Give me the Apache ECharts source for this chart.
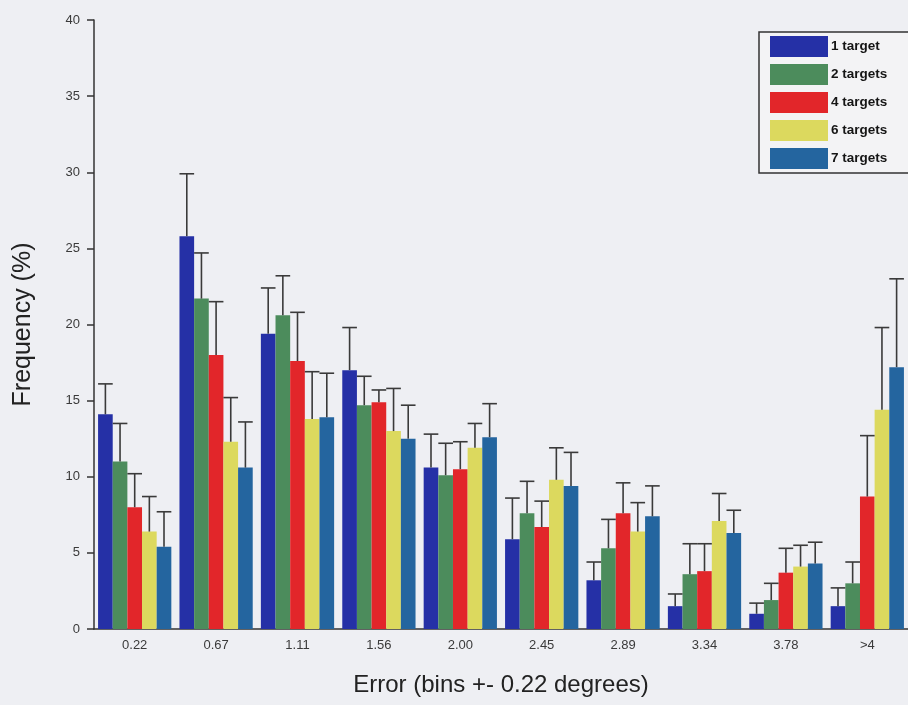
<!DOCTYPE html>
<html>
<head>
<meta charset="utf-8">
<script src="https://cdn.jsdelivr.net/npm/echarts@6/dist/echarts.min.js"></script>
<style>
  html, body { margin: 0; padding: 0; background: #eeeff3; }
  #chart { width: 908px; height: 705px; }
</style>
</head>
<body>
<div id="chart"></div>
<script>
// error bins
const categories = ['0.22', '0.67', '1.11', '1.56', '2.00', '2.45', '2.89', '3.34', '3.78', '>4'];
const targetNames = ['1 target', '2 targets', '4 targets', '6 targets', '7 targets'];

// mean frequency (%)
const freq1 = [14.1, 25.8, 19.4, 17.0, 10.6, 5.9, 3.2, 1.5, 1.0, 1.5];
const freq2 = [11.0, 21.7, 20.6, 14.7, 10.1, 7.6, 5.3, 3.6, 1.9, 3.0];
const freq4 = [8.0, 18.0, 17.6, 14.9, 10.5, 6.7, 7.6, 3.8, 3.7, 8.7];
const freq6 = [6.4, 12.3, 13.8, 13.0, 11.9, 9.8, 6.4, 7.1, 4.1, 14.4];
const freq7 = [5.4, 10.6, 13.9, 12.5, 12.6, 9.4, 7.4, 6.3, 4.3, 17.2];

// upper error (%)
const err1 = [2.0, 4.1, 3.0, 2.8, 2.2, 2.7, 1.2, 0.8, 0.7, 1.2];
const err2 = [2.5, 3.0, 2.6, 1.9, 2.1, 2.1, 1.9, 2.0, 1.1, 1.4];
const err4 = [2.2, 3.5, 3.2, 0.8, 1.8, 1.7, 2.0, 1.8, 1.6, 4.0];
const err6 = [2.3, 2.9, 3.1, 2.8, 1.6, 2.1, 1.9, 1.8, 1.4, 5.4];
const err7 = [2.3, 3.0, 2.9, 2.2, 2.2, 2.2, 2.0, 1.5, 1.4, 5.8];

const colors = ['#2530a6', '#4c8c5c', '#e2262a', '#dcd95e', '#24659f'];
const allFreq = [freq1, freq2, freq4, freq6, freq7];
const allErr = [err1, err2, err4, err6, err7];

const CAT_GAP = 0.1;
const nSeries = targetNames.length;

const chart = echarts.init(document.getElementById('chart'));

const barSeries = targetNames.map((name, i) => ({
  name: name,
  type: 'bar',
  data: allFreq[i],
  barGap: '0%',
  barCategoryGap: (CAT_GAP * 100) + '%',
  itemStyle: { color: colors[i] },
  z: 2,
}));

// one-sided (upper) error bars, placed over each bar of the group
const errorSeries = targetNames.map((name, i) => ({
  name: name + ' err',
  type: 'custom',
  data: allFreq[i].map((v, k) => [k, v, v + allErr[i][k]]),
  encode: { x: 0, y: [1, 2] },
  z: 3,
  silent: true,
  renderItem: (params, api) => {
    const idx = api.value(0);
    const lo = api.coord([idx, api.value(1)]);
    const hi = api.coord([idx, api.value(2)]);
    const band = api.size([1, 0])[0];
    const inner = band * (1 - CAT_GAP);
    const bw = inner / nSeries;
    const cx = lo[0] - inner / 2 + bw * (i + 0.5);
    const half = bw * 0.5;
    const style = { stroke: '#3a3a3a', lineWidth: 1.6 };
    return {
      type: 'group',
      children: [
        { type: 'line', shape: { x1: cx, y1: lo[1], x2: cx, y2: hi[1] }, style: style },
        { type: 'line', shape: { x1: cx - half, y1: hi[1], x2: cx + half, y2: hi[1] }, style: style },
      ],
    };
  },
}));

const option = {
  backgroundColor: '#eeeff3',
  animation: false,
  textStyle: { fontFamily: 'Liberation Sans, Arial, sans-serif' },
  grid: { left: 94, right: 0, top: 20, bottom: 76 },
  legend: {
    data: targetNames,
    orient: 'vertical',
    left: 759,
    top: 32,
    padding: [4, 30, 4, 11],
    itemWidth: 58,
    itemHeight: 21,
    itemGap: 7,
    backgroundColor: '#f3f3f5',
    borderColor: '#333',
    borderWidth: 1.5,
    borderRadius: 0,
    icon: 'rect',
    textStyle: { color: '#151515', fontSize: 13.5, fontWeight: 'bold', padding: [0, 0, 0, -2] },
  },
  xAxis: {
    type: 'category',
    data: categories,
    name: 'Error (bins +- 0.22 degrees)',
    nameLocation: 'middle',
    nameGap: 44,
    nameTextStyle: { color: '#222', fontSize: 24 },
    axisLine: { lineStyle: { color: '#333', width: 1.5 } },
    axisTick: { show: false },
    axisLabel: { color: '#3a3a3a', fontSize: 13, margin: 10 },
  },
  yAxis: {
    type: 'value',
    min: 0,
    max: 40,
    interval: 5,
    name: 'Frequency (%)',
    nameLocation: 'middle',
    nameGap: 58,
    nameTextStyle: { color: '#222', fontSize: 25 },
    axisLine: { show: true, lineStyle: { color: '#333', width: 1.5 } },
    axisTick: { show: true, length: 7, lineStyle: { color: '#333', width: 1.5 } },
    axisLabel: { color: '#3a3a3a', fontSize: 13, margin: 14 },
    splitLine: { show: false },
  },
  series: barSeries.concat(errorSeries),
};

chart.setOption(option);
</script>
</body>
</html>
